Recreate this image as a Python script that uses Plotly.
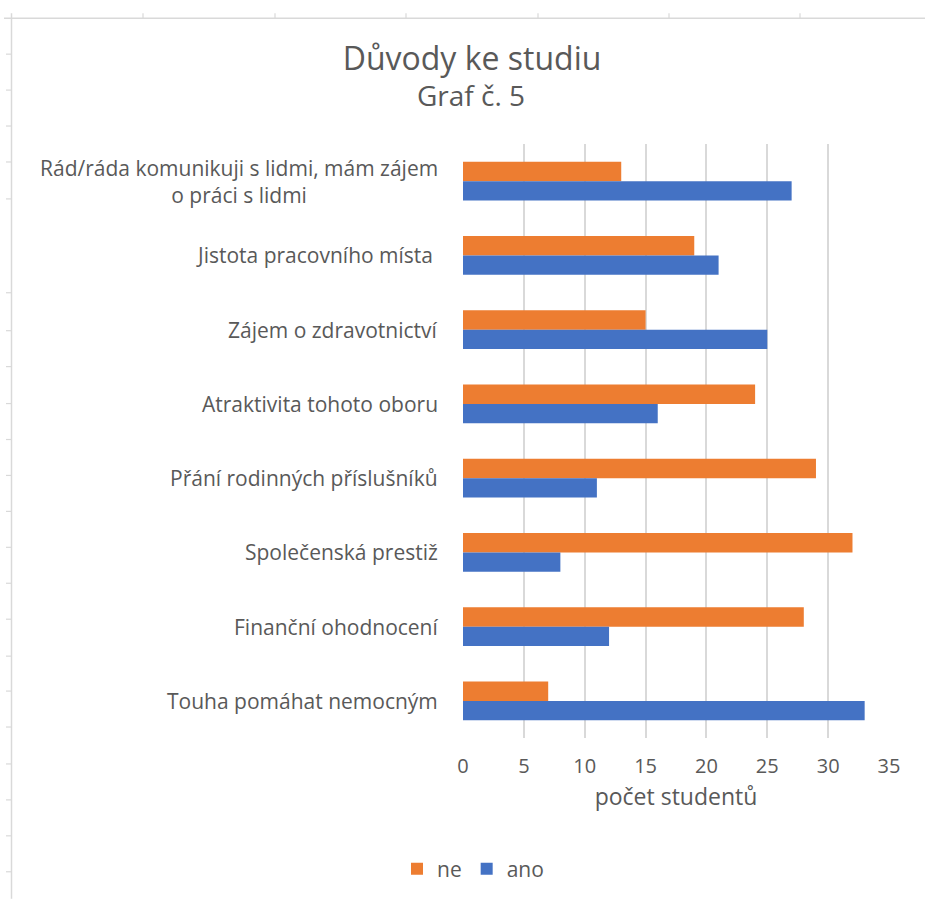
import plotly.graph_objects as go

# ---- data (top to bottom as shown) ----
categories = [
    "Rád/ráda komunikuji s lidmi, mám zájem<br>o práci s lidmi",
    "Jistota pracovního místa\u00a0",
    "Zájem o zdravotnictví",
    "Atraktivita tohoto oboru",
    "Přání rodinných příslušníků",
    "Společenská prestiž",
    "Finanční ohodnocení",
    "Touha pomáhat nemocným",
]
ne_values = [13, 19, 15, 24, 29, 32, 28, 7]
ano_values = [27, 21, 25, 16, 11, 8, 12, 33]
x_ticks = [0, 5, 10, 15, 20, 25, 30, 35]

title_text = "Důvody ke studiu"
subtitle_text = "Graf č. 5"
x_title = "počet studentů"

# ---- layout constants ----
W, H = 925, 900
ML, MR, MT, MB = 463, 36, 144, 161
TXT = "#595959"
FONT = "Open Sans"

cat_ids = list(range(len(categories)))

fig = go.Figure()
fig.add_trace(go.Bar(y=cat_ids, x=ne_values, name="ne", orientation="h",
                     marker=dict(color="#ED7D31", line=dict(width=0))))
fig.add_trace(go.Bar(y=cat_ids, x=ano_values, name="ano", orientation="h",
                     marker=dict(color="#4472C4", line=dict(width=0))))

pw = W - ML - MR
ph = H - MT - MB


def px2x(px):
    return (px - ML) / pw


def px2y(py):
    return (H - MB - py) / ph


shapes = []
grey = "#d9d9d9"
# spreadsheet frame decoration
shapes.append(dict(type="line", xref="paper", yref="paper", x0=px2x(4), x1=px2x(925),
                   y0=px2y(18), y1=px2y(18), line=dict(color=grey, width=1.5)))
shapes.append(dict(type="line", xref="paper", yref="paper", x0=px2x(11.5), x1=px2x(11.5),
                   y0=px2y(13), y1=px2y(900), line=dict(color=grey, width=1.5)))
for cx in [143, 275, 406, 538, 669, 800]:
    shapes.append(dict(type="line", xref="paper", yref="paper", x0=px2x(cx), x1=px2x(cx),
                       y0=px2y(13), y1=px2y(18), line=dict(color=grey, width=1.2)))
for ry in [54, 90, 126, 162, 199, 293, 331, 367, 404, 440, 476, 512, 548, 584,
           620, 657, 692, 728, 765, 801, 837, 873]:
    shapes.append(dict(type="line", xref="paper", yref="paper", x0=px2x(6), x1=px2x(11.5),
                       y0=px2y(ry), y1=px2y(ry), line=dict(color=grey, width=1.2)))

annotations = []
for i, c in enumerate(categories):
    annotations.append(dict(text=c, x=0, xref="paper", y=i, yref="y", xanchor="right",
                            yanchor="middle", xshift=-23, align="center", showarrow=False,
                            font=dict(family=FONT, size=21, color=TXT)))
annotations.append(dict(text=subtitle_text, x=px2x(471), xref="paper", y=px2y(95), yref="paper",
                        xanchor="center", yanchor="middle", showarrow=False,
                        font=dict(family=FONT, size=28, color=TXT)))

fig.update_layout(
    width=W, height=H,
    margin=dict(l=ML, r=MR, t=MT, b=MB),
    paper_bgcolor="white", plot_bgcolor="white",
    barmode="group", bargap=0.475, bargroupgap=0,
    title=dict(text=title_text, x=472 / W, xanchor="center", y=1 - 59 / H, yanchor="middle",
               font=dict(family=FONT, size=32, color=TXT)),
    font=dict(family=FONT, color=TXT),
    xaxis=dict(range=[0, 35], tickvals=x_ticks, showgrid=True, gridcolor=grey, gridwidth=1.5,
               zeroline=False, showline=False, ticks="", ticklabelstandoff=14,
               tickfont=dict(family=FONT, size=20, color=TXT),
               title=dict(text=x_title, font=dict(family=FONT, size=23, color=TXT), standoff=10)),
    yaxis=dict(tickvals=cat_ids, showticklabels=False, autorange="reversed",
               showgrid=False, zeroline=False, showline=False, ticks=""),
    legend=dict(orientation="h", x=px2x(473), xref="paper", xanchor="center", y=px2y(869),
                yanchor="middle", font=dict(family=FONT, size=21, color=TXT),
                itemwidth=30, tracegroupgap=0),
    showlegend=True,
    shapes=shapes,
    annotations=annotations,
)

fig.write_html("out.html")
